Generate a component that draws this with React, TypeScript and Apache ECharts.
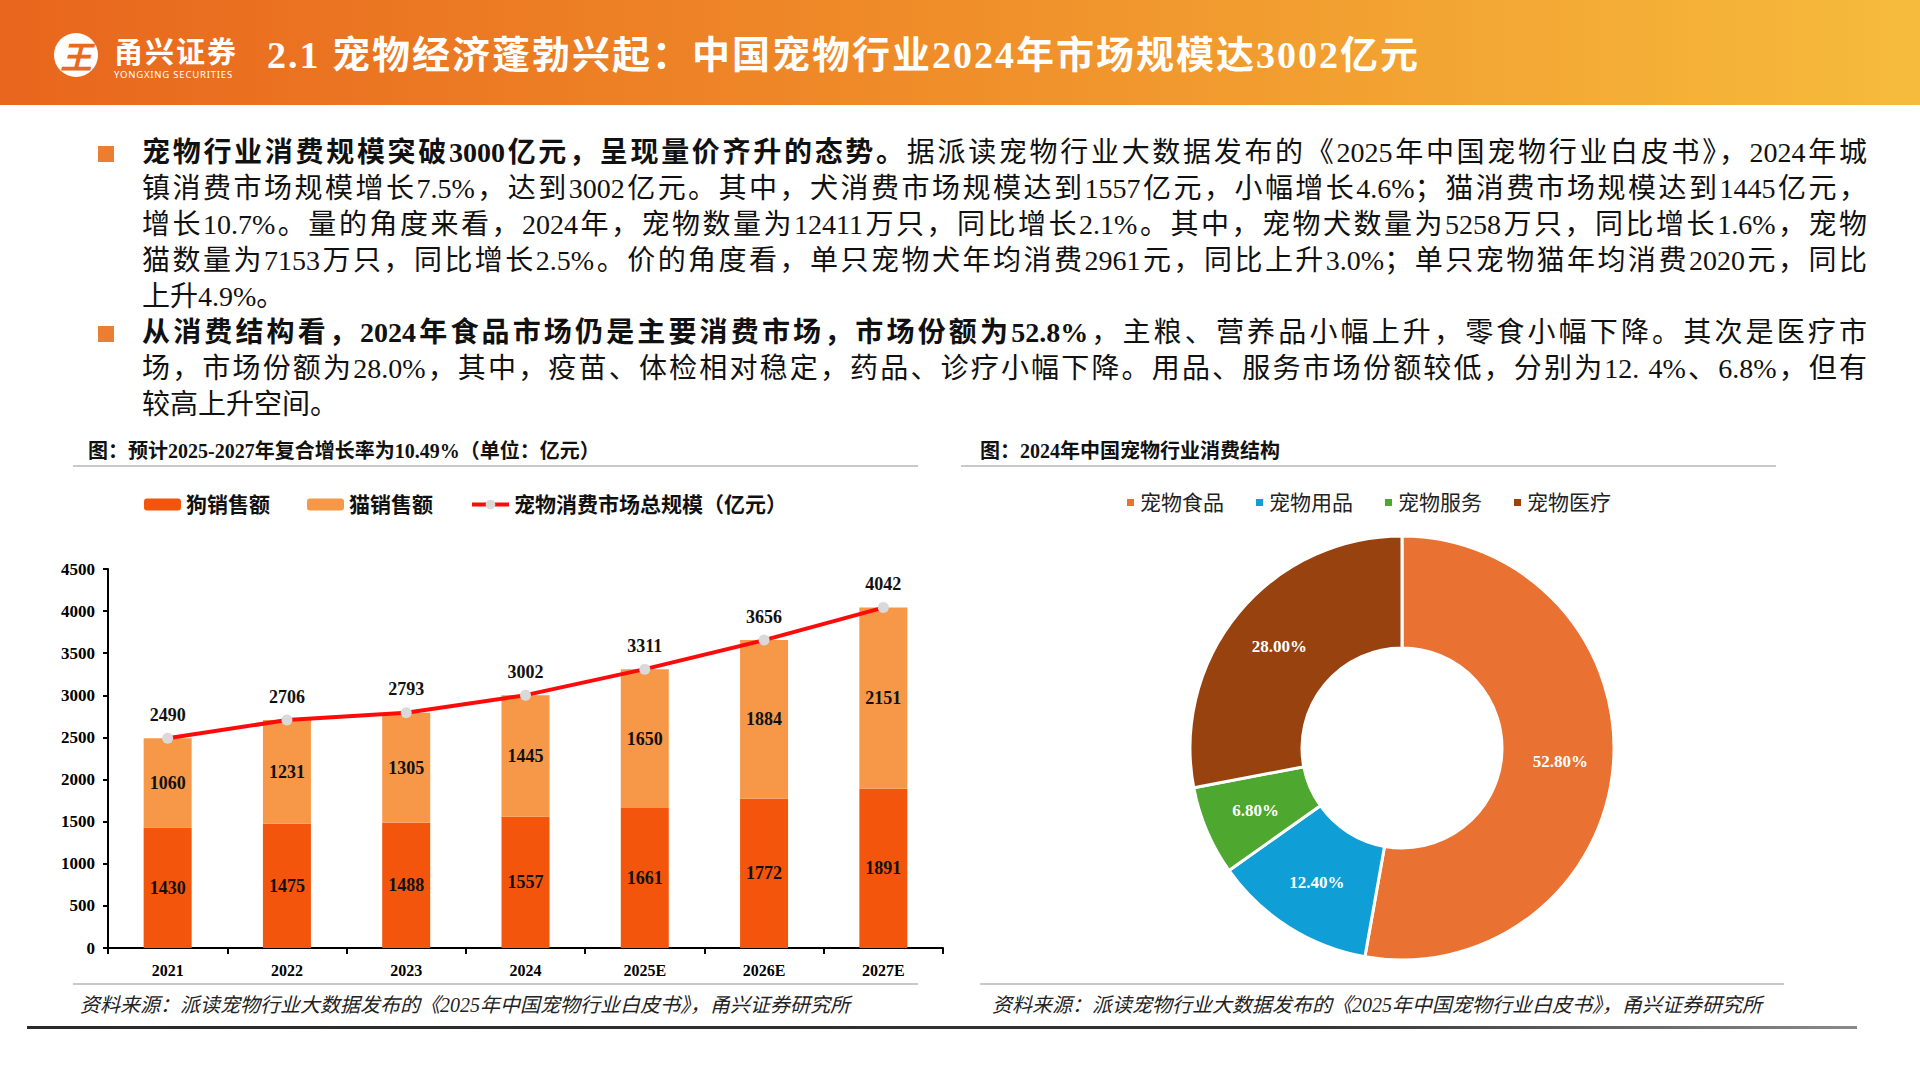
import React, { useEffect, useRef } from "react";
import * as echarts from "echarts";

// ---------- data ----------
const years = ["2021", "2022", "2023", "2024", "2025E", "2026E", "2027E"];
const dogSales = [1430, 1475, 1488, 1557, 1661, 1772, 1891];
const catSales = [1060, 1231, 1305, 1445, 1650, 1884, 2151];
const totalMarket = [2490, 2706, 2793, 3002, 3311, 3656, 4042];
const yMin = 0;
const yMax = 4500;
const yStep = 500;

const structureNames = ["宠物食品", "宠物用品", "宠物服务", "宠物医疗"];
const structureShares = [52.8, 12.4, 6.8, 28.0];

const seriesNames = ["狗销售额", "猫销售额", "宠物消费市场总规模（亿元）"];

const headerTitle = "2.1 宠物经济蓬勃兴起：中国宠物行业2024年市场规模达3002亿元";
const leftChartTitle = "图：预计2025-2027年复合增长率为10.49%（单位：亿元）";
const rightChartTitle = "图：2024年中国宠物行业消费结构";
const sourceText = "资料来源：派读宠物行业大数据发布的《2025年中国宠物行业白皮书》，甬兴证券研究所";

// paragraph lines: [bold part, normal part]
const para1 = [
  ["宠物行业消费规模突破3000亿元，呈现量价齐升的态势。", "据派读宠物行业大数据发布的《2025年中国宠物行业白皮书》，2024年城"],
  ["", "镇消费市场规模增长7.5%，达到3002亿元。其中，犬消费市场规模达到1557亿元，小幅增长4.6%；猫消费市场规模达到1445亿元，"],
  ["", "增长10.7%。量的角度来看，2024年，宠物数量为12411万只，同比增长2.1%。其中，宠物犬数量为5258万只，同比增长1.6%，宠物"],
  ["", "猫数量为7153万只，同比增长2.5%。价的角度看，单只宠物犬年均消费2961元，同比上升3.0%；单只宠物猫年均消费2020元，同比"],
  ["", "上升4.9%。"],
];
const para2 = [
  ["从消费结构看，2024年食品市场仍是主要消费市场，市场份额为52.8%", "，主粮、营养品小幅上升，零食小幅下降。其次是医疗市"],
  ["", "场，市场份额为28.0%，其中，疫苗、体检相对稳定，药品、诊疗小幅下降。用品、服务市场份额较低，分别为12. 4%、6.8%，但有"],
  ["", "较高上升空间。"],
];

// ---------- styles ----------
const SERIF = '"Liberation Serif", "Noto Sans CJK SC", serif';
const DOG_COLOR = "#F4550C";
const CAT_COLOR = "#F69848";
const LINE_COLOR = "#FF0A0A";
const PIE_COLORS = ["#E97132", "#0F9ED5", "#4EA72E", "#97420F"];

function Line({ bold, normal, last }: { bold: string; normal: string; last: boolean }) {
  return (
    <div
      style={{
        height: 36,
        lineHeight: "36px",
        fontSize: 28,
        textAlign: last ? "left" : "justify",
        textAlignLast: last ? "left" : "justify",
        overflow: "hidden",
        color: "#111",
      } as any}
    >
      {bold ? <span style={{ fontWeight: 700 }}>{bold}</span> : null}
      {normal}
    </div>
  );
}

export default function App() {
  const ref = useRef<HTMLDivElement>(null);

  useEffect(() => {
    if (!ref.current) return;
    const chart = echarts.init(ref.current, undefined, { renderer: "svg" });
    const labelStyle = {
      color: "#111",
      fontWeight: "bold" as const,
      fontSize: 18,
      fontFamily: SERIF,
    };
    const option: any = {
      animation: false,
      legend: [
        {
          left: 139,
          top: 489,
          itemWidth: 37,
          itemHeight: 12,
          itemGap: 37,
          data: [
            { name: seriesNames[0] },
            { name: seriesNames[1] },
            { name: seriesNames[2], lineStyle: { width: 4, color: LINE_COLOR } },
          ],
          textStyle: { fontSize: 21, fontWeight: "bold", color: "#111", fontFamily: SERIF },
        },
        {
          left: 1120,
          top: 487,
          icon: "rect",
          itemWidth: 9,
          itemHeight: 9,
          itemGap: 30,
          data: structureNames,
          textStyle: { fontSize: 21, color: "#222", fontFamily: SERIF },
        },
      ],
      grid: { left: 108, top: 569, width: 835, height: 379, containLabel: false },
      xAxis: {
        type: "category",
        data: years,
        axisLine: { lineStyle: { color: "#000", width: 2 } },
        axisTick: { show: true, interval: 0, length: 6, lineStyle: { color: "#000", width: 2 } },
        axisLabel: { color: "#000", fontWeight: "bold", fontSize: 16, fontFamily: SERIF, margin: 14 },
      },
      yAxis: {
        type: "value",
        min: yMin,
        max: yMax,
        interval: yStep,
        axisLine: { show: true, lineStyle: { color: "#000", width: 2 } },
        axisTick: { show: true, length: 5, lineStyle: { color: "#000", width: 2 } },
        splitLine: { show: false },
        axisLabel: {
          color: "#000",
          fontWeight: "bold",
          fontSize: 17,
          fontFamily: SERIF,
          margin: 13,
          formatter: (v: number) => String(v),
        },
      },
      series: [
        {
          name: seriesNames[0],
          type: "bar",
          stack: "sales",
          data: dogSales,
          barWidth: 48,
          itemStyle: { color: DOG_COLOR },
          label: { show: true, position: "inside", ...labelStyle },
        },
        {
          name: seriesNames[1],
          type: "bar",
          stack: "sales",
          data: catSales,
          barWidth: 48,
          itemStyle: { color: CAT_COLOR },
          label: { show: true, position: "inside", ...labelStyle },
        },
        {
          name: seriesNames[2],
          type: "line",
          data: totalMarket,
          z: 5,
          symbol: "circle",
          symbolSize: 11,
          lineStyle: { color: LINE_COLOR, width: 4 },
          itemStyle: { color: "#D9D9D9" },
          label: { show: true, position: "top", distance: 9, ...labelStyle },
        },
        {
          name: "结构",
          type: "pie",
          center: [1402, 748],
          radius: [100, 212],
          startAngle: 90,
          clockwise: true,
          data: structureNames.map((n, i) => ({
            name: n,
            value: structureShares[i],
            itemStyle: { color: PIE_COLORS[i] },
          })),
          itemStyle: { borderColor: "#fff", borderWidth: 3 },
          label: {
            show: true,
            position: "inside",
            formatter: (p: any) => Number(p.value).toFixed(2) + "%",
            color: "#fff",
            fontWeight: "bold",
            fontSize: 17,
            fontFamily: SERIF,
          },
          labelLine: { show: false },
        },
      ],
      graphic: [
        {
          type: "text",
          left: 88,
          top: 441,
          style: { text: leftChartTitle, fontSize: 20, fontWeight: "bold", fill: "#111", fontFamily: SERIF },
        },
        {
          type: "text",
          left: 980,
          top: 441,
          style: { text: rightChartTitle, fontSize: 20, fontWeight: "bold", fill: "#111", fontFamily: SERIF },
        },
        { type: "rect", shape: { x: 73, y: 465, width: 845, height: 2 }, style: { fill: "#C9C9C9" } },
        { type: "rect", shape: { x: 961, y: 465, width: 815, height: 2 }, style: { fill: "#C9C9C9" } },
        { type: "rect", shape: { x: 73, y: 983, width: 845, height: 2 }, style: { fill: "#C9C9C9" } },
        { type: "rect", shape: { x: 980, y: 983, width: 804, height: 2 }, style: { fill: "#C9C9C9" } },
        {
          type: "text",
          left: 80,
          top: 995,
          style: { text: sourceText, fontSize: 20, fontStyle: "italic", fill: "#222", fontFamily: SERIF },
        },
        {
          type: "text",
          left: 992,
          top: 995,
          style: { text: sourceText, fontSize: 20, fontStyle: "italic", fill: "#222", fontFamily: SERIF },
        },
        {
          type: "rect",
          shape: { x: 27, y: 1026, width: 1830, height: 3 },
          style: {
            fill: new echarts.graphic.LinearGradient(0, 0, 1, 0, [
              { offset: 0, color: "#2a2a2a" },
              { offset: 0.7, color: "#333333" },
              { offset: 1, color: "#8a8a8a" },
            ]),
          },
        },
      ],
    };
    chart.setOption(option);
    return () => chart.dispose();
  }, []);

  return (
    <div
      style={{
        position: "absolute",
        left: 0,
        top: 0,
        width: 1920,
        height: 1080,
        overflow: "hidden",
        background: "#fff",
        fontFamily: SERIF,
      }}
    >
      {/* header band */}
      <div
        style={{
          position: "absolute",
          left: 0,
          top: 0,
          width: 1920,
          height: 105,
          background: "linear-gradient(90deg, #E8661D 0%, #EF8A28 45%, #F6BB3C 100%)",
        }}
      />
      {/* logo */}
      <div
        style={{
          position: "absolute",
          left: 54,
          top: 33,
          width: 44,
          height: 44,
          borderRadius: "50%",
          background: "#fff",
          color: "#E96A1F",
          fontSize: 32,
          fontWeight: 700,
          lineHeight: "44px",
          textAlign: "center",
          fontStyle: "italic",
          fontFamily: '"Noto Sans CJK SC", sans-serif',
        }}
      >
        王
      </div>
      <div
        style={{
          position: "absolute",
          left: 114,
          top: 35,
          height: 30,
          color: "#fff",
          fontSize: 29,
          fontWeight: 700,
          lineHeight: "30px",
          letterSpacing: 2,
          fontFamily: '"Noto Sans CJK SC", sans-serif',
          whiteSpace: "nowrap",
        }}
      >
        甬兴证券
      </div>
      <div
        style={{
          position: "absolute",
          left: 114,
          top: 69,
          height: 11,
          color: "#fff",
          fontSize: 9.5,
          lineHeight: "11px",
          letterSpacing: 0.8,
          fontFamily: '"Noto Sans", sans-serif',
          whiteSpace: "nowrap",
        }}
      >
        YONGXING SECURITIES
      </div>
      <div
        style={{
          position: "absolute",
          left: 267,
          top: 30,
          height: 50,
          lineHeight: "50px",
          fontSize: 38,
          fontWeight: 700,
          color: "#fff",
          letterSpacing: 2,
          whiteSpace: "nowrap",
        }}
      >
        {headerTitle}
      </div>

      {/* chart layer */}
      <div ref={ref} style={{ position: "absolute", left: 0, top: 0, width: 1920, height: 1080 }} />

      {/* bullets */}
      <div style={{ position: "absolute", left: 98, top: 146, width: 16, height: 16, background: "#ED7D31" }} />
      <div style={{ position: "absolute", left: 98, top: 326, width: 16, height: 16, background: "#ED7D31" }} />

      {/* paragraphs */}
      <div style={{ position: "absolute", left: 142, top: 135, width: 1725 }}>
        {para1.map((l, i) => (
          <Line key={"a" + i} bold={l[0]} normal={l[1]} last={i === para1.length - 1} />
        ))}
        {para2.map((l, i) => (
          <Line key={"b" + i} bold={l[0]} normal={l[1]} last={i === para2.length - 1} />
        ))}
      </div>
    </div>
  );
}
